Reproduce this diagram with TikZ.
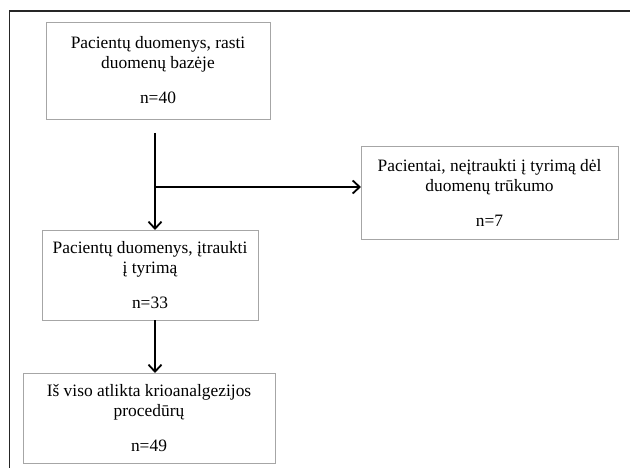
\documentclass[tikz,border=0pt]{standalone}
\usepackage{fontspec}
\setmainfont{Liberation Serif}
\usetikzlibrary{arrows.meta}
\begin{document}
\begin{tikzpicture}[x=1pt,y=-1pt,
  box/.style={draw=black!35, line width=0.9pt, inner sep=0pt, outer sep=0pt,
    align=center, font=\fontsize{17.4}{20}\selectfont},
  flow/.style={line width=1.8pt, -{Straight Barb[length=7pt,width=13pt,line width=1.8pt]}},
  plain/.style={line width=1.8pt}]
\useasboundingbox (0,0) rectangle (630,468);
\draw[line width=1.4pt, black!85] (630,11) -- (9.5,11) -- (9.5,468);
\node[box, minimum width=224, minimum height=97] (b1) at (158,70.5)
  {Pacientų duomenys, rasti\\duomenų bazėje\\[15pt]n=40};
\node[box, minimum width=257, minimum height=93] (b2) at (489.5,192.5)
  {Pacientai, neįtraukti į tyrimą dėl\\duomenų trūkumo\\[15pt]n=7};
\node[box, minimum width=216, minimum height=90] (b3) at (150,275)
  {Pacientų duomenys, įtraukti\\į tyrimą\\[15pt]n=33};
\node[box, minimum width=252, minimum height=90] (b4) at (149,418)
  {Iš viso atlikta krioanalgezijos\\procedūrų\\[15pt]n=49};
\coordinate (s) at (155,133);
\coordinate (br) at (155,187);
\draw[flow] (s) -- (s |- b3.north);
\draw[flow] (br) -- (b2.west |- br);
\draw[flow] (s |- b3.south) -- (s |- b4.north);
\end{tikzpicture}
\end{document}
